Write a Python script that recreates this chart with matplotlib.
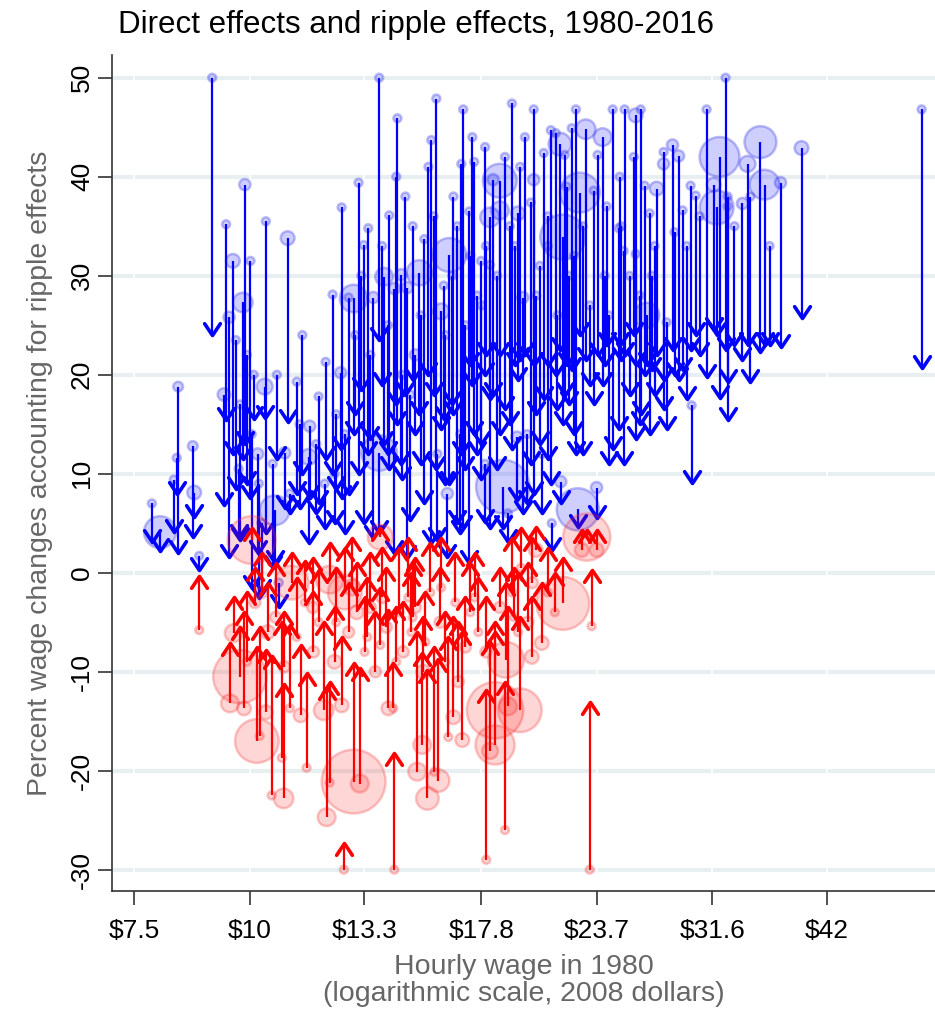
import numpy as np
import matplotlib
matplotlib.use("Agg")
import matplotlib.pyplot as plt
from matplotlib.path import Path
from matplotlib.markers import MarkerStyle

plt.rcParams['font.family'] = ['Liberation Sans Narrow', 'Liberation Sans', 'DejaVu Sans']

###############################################################################
# data: hourly wage in 1980 (2008 dollars), change from direct effect,
# change once ripple effects are included, and cell weight

# occupations where ripple effects pull the change down
blue_wage = [7.84, 8.00, 8.28, 8.34, 8.37, 8.68, 8.71, 8.82, 9.11, 9.38,
             9.43, 9.50, 9.59, 9.66, 9.73, 9.76, 9.83, 9.88, 9.93, 10.02,
             10.05, 10.10, 10.20, 10.23, 10.30, 10.38, 10.41, 10.59, 10.64, 10.75,
             10.91, 10.99, 11.05, 11.24, 11.32, 11.58, 11.61, 11.87, 12.05, 12.08,
             12.29, 12.35, 12.54, 12.57, 12.67, 12.79, 12.95, 13.11, 13.28, 13.43,
             13.60, 13.80, 13.80, 13.97, 14.15, 14.33, 14.44, 14.58, 14.73, 14.80,
             14.91, 15.10, 15.25, 15.44, 15.60, 15.71, 15.91, 15.95, 16.10, 16.27,
             16.35, 16.43, 16.55, 16.76, 16.88, 16.93, 17.01, 17.27, 17.31, 17.48,
             17.61, 17.78, 17.96, 17.96, 18.18, 18.18, 18.32, 18.63, 18.63, 18.77,
             18.87, 19.01, 19.20, 19.34, 19.44, 19.49, 19.73, 19.83, 19.93, 20.12,
             20.27, 20.27, 20.58, 20.68, 20.78, 20.99, 21.15, 21.20, 21.41, 21.63,
             21.68, 21.79, 21.90, 22.12, 22.28, 22.51, 22.62, 22.73, 22.90, 23.07,
             23.30, 23.53, 23.70, 23.76, 24.06, 24.18, 24.42, 24.67, 25.04, 25.10,
             25.35, 25.41, 25.73, 26.12, 26.12, 26.38, 26.45, 26.71, 26.85, 27.04,
             27.38, 27.52, 28.00, 28.00, 28.21, 28.63, 28.77, 29.06, 29.35, 29.65,
             29.94, 30.02, 30.32, 30.62, 31.16, 31.71, 31.95, 32.18, 32.67, 32.83,
             32.83, 33.40, 34.07, 34.50, 34.75, 35.63, 35.99, 36.44, 37.45, 39.46,
             53.20,
             13.00, 13.20, 13.50, 13.90, 14.10, 14.40, 14.60, 15.00, 15.30, 15.80,
             16.20, 16.60, 17.10, 17.40, 17.80, 18.00, 18.50, 19.10, 19.60, 20.40,
             21.00, 21.50, 22.00, 22.40, 24.30, 25.20, 26.00, 27.20, 11.40, 11.80,
             12.40, 10.70]
blue_direct = [7.0, 4.1, 9.4, 11.6, 18.8, 12.8, 8.1, 1.7, 50.0, 18.0,
               35.2, 25.8, 31.5, 23.5, 10.5, 17.0, 27.3, 39.2, 22.0, 31.5,
               14.0, 20.0, 12.0, 9.0, 5.0, 18.8, 35.5, 11.0, 6.3, -1.0,
               12.1, 33.8, 8.0, 19.3, 15.0, 11.7, 14.8, 17.8, 9.0, 21.3,
               28.1, 10.0, 20.2, 36.9, 14.0, 27.8, 27.7, 39.4, 33.1, 34.8,
               27.8, 50.0, 12.1, 29.9, 36.1, 28.7, 45.9, 30.1, 38.0, 28.8,
               18.0, 22.0, 30.3, 33.7, 41.0, 43.7, 47.9, 12.0, 26.4, 24.0,
               8.0, 32.1, 30.0, 35.0, 14.0, 41.3, 46.8, 36.5, 32.0, 41.5,
               28.0, 31.5, 43.0, 11.0, 35.9, 31.1, 39.7, 39.6, 36.6, 8.7,
               42.0, 6.0, 47.4, 33.0, 13.7, 36.3, 27.8, 44.0, 14.0, 37.4,
               46.8, 39.7, 31.0, 12.0, 42.4, 36.0, 44.7, 5.0, 44.4, 43.3,
               9.2, 33.9, 42.2, 30.0, 44.9, 46.8, 6.4, 38.4, 35.0, 44.8,
               27.0, 38.6, 8.6, 42.2, 44.0, 30.0, 26.0, 46.8, 34.8, 40.0,
               32.5, 46.8, 30.0, 46.2, 32.2, 28.0, 46.8, 39.1, 26.0, 36.3,
               33.0, 38.8, 42.5, 41.3, 25.3, 43.2, 34.4, 42.1, 36.6, 33.0,
               39.1, 16.9, 38.1, 36.0, 46.8, 39.2, 36.9, 42.0, 50.0, 38.0,
               37.0, 35.0, 37.3, 41.3, 38.0, 43.5, 39.2, 33.0, 39.4, 42.9,
               46.8,
               24.0, 30.0, 22.0, 33.0, 25.0, 40.0, 20.0, 35.0, 26.0, 36.0,
               29.0, 38.0, 25.0, 44.0, 27.0, 33.0, 30.0, 35.0, 41.0, 28.0,
               33.0, 26.0, 39.0, 32.0, 37.0, 35.0, 42.0, 30.0, 24.0, 13.0,
               16.0, 20.0]
blue_ripple = [3.1, 2.2, 4.1, 8.0, 2.0, 3.6, 5.6, 0.3, 24.0, 6.8,
               15.4, 1.6, 12.0, 8.5, 3.6, 3.3, 11.5, 13.0, 9.0, 7.5,
               -1.5, 15.5, 2.0, -2.6, -2.0, 15.6, 4.0, 0.5, 1.0, -3.5,
               6.5, 15.2, 6.0, 8.0, 6.5, 3.0, 7.5, 7.0, 4.5, 11.5,
               10.0, 5.0, 12.5, 7.5, 4.0, 8.0, 14.0, 10.0, 5.0, 12.0,
               3.5, 23.5, 4.0, 13.0, 10.5, 2.0, 15.0, 11.0, 18.0, 1.5,
               5.3, 14.0, 16.0, 7.0, 20.0, 3.0, 10.5, 3.3, 14.5, 9.0,
               1.6, 9.0, 17.0, 5.0, 4.0, 12.0, 4.5, 1.0, 21.0, 14.0,
               12.0, 9.5, 20.0, 5.1, 17.5, 4.5, 18.0, 22.0, 14.0, 4.5,
               16.5, 3.1, 12.5, 21.0, 7.3, 19.5, 6.0, 22.0, 7.0, 11.0,
               21.0, 8.0, 13.0, 6.0, 17.5, 21.0, 9.0, 2.3, 20.0, 22.5,
               7.0, 15.0, 18.0, 17.0, 20.5, 12.0, 4.6, 24.0, 12.0, 21.5,
               19.0, 17.0, 5.5, 22.0, 19.0, 21.0, 11.0, 12.5, 14.5, 23.0,
               11.0, 22.0, 18.0, 21.0, 13.5, 15.0, 16.0, 20.0, 21.0, 14.0,
               18.0, 22.0, 19.5, 16.5, 14.5, 22.5, 20.0, 19.5, 20.5, 17.5,
               22.5, 9.1, 24.0, 22.0, 19.8, 24.5, 24.0, 17.6, 22.5, 15.4,
               19.3, 23.0, 21.5, 23.0, 19.3, 22.3, 23.0, 23.0, 22.8, 25.7,
               20.7,
               16.0, 18.5, 13.5, 19.0, 12.0, 17.0, 9.5, 19.5, 11.0, 18.0,
               15.5, 16.0, 10.5, 19.0, 13.0, 22.0, 10.5, 15.0, 21.5, 16.0,
               11.5, 16.5, 21.0, 14.0, 23.0, 21.5, 24.0, 20.5, 10.0, 6.0,
               8.5, 11.5]
blue_weight = [1, 16, 1, 1, 1.5, 1.5, 3, 1, 1, 2.5,
               1, 2, 3, 1, 1, 1, 6, 2, 1, 1,
               1, 1, 2, 1, 1, 4, 1, 1, 14, 1,
               2, 3, 1, 1, 1, 4, 2, 1, 1, 1,
               1, 1, 2, 1, 1, 1, 12, 1, 1, 1,
               2, 1, 20, 5, 1, 2, 1, 2, 1, 2,
               1, 2, 10, 1, 1, 1, 1, 1, 4, 1,
               2, 18, 1, 1, 1, 1, 1, 1, 1, 1,
               1, 1, 1, 1, 6, 1, 2, 18, 5, 45,
               1, 1, 1, 1, 2, 3, 2, 1, 1, 1,
               1, 2, 1, 1, 1, 1, 1, 1, 1, 8,
               2, 32, 1, 1, 1, 1, 28, 25, 1, 6,
               1, 1, 2, 1, 5, 1, 1, 1, 1, 1,
               1, 1, 1, 3, 1, 1, 1, 1, 10, 1,
               1, 3, 1, 2, 1, 2, 1, 2, 1, 1,
               1, 1, 1, 1, 1, 3, 18, 25, 1, 1,
               1, 1, 2, 4, 1, 16, 14, 1, 2, 3,
               1,
               1, 1, 1, 1, 1, 1, 1, 1, 1, 1,
               1, 1, 1, 1, 1, 1, 1, 1, 1, 1,
               1, 1, 1, 1, 1, 1, 1, 1, 1, 1,
               1, 1]

# occupations where ripple effects push the change up
red_wage = [8.82, 9.52, 9.61, 9.76, 9.86, 9.93, 10.05, 10.13, 10.18, 10.25,
            10.41, 10.46, 10.56, 10.67, 10.83, 10.88, 11.05, 11.10, 11.24, 11.35,
            11.47, 11.52, 11.72, 11.87, 12.02, 12.11, 12.20, 12.20, 12.35, 12.57,
            12.64, 12.67, 12.79, 12.95, 13.15, 13.05, 13.31, 13.50, 13.67, 13.84,
            13.84, 14.05, 14.12, 14.33, 14.29, 14.51, 14.65, 14.84, 14.95, 15.17,
            15.10, 15.36, 15.48, 15.56, 15.67, 15.83, 15.98, 16.06, 16.27, 16.39,
            16.60, 16.68, 16.97, 17.10, 17.31, 17.66, 18.01, 18.18, 18.41, 18.41,
            18.63, 18.87, 18.92, 19.01, 19.20, 19.49, 19.58, 19.63, 19.97, 20.17,
            20.37, 20.68, 20.99, 21.79, 22.84, 23.13, 23.30, 23.41, 23.70, 21.36,
            11.70, 12.40, 12.90, 13.40, 13.90, 14.40, 15.00, 15.40, 16.10, 16.80,
            17.50, 18.00, 19.30, 20.20, 10.90, 10.30]
red_direct = [-5.8, -13.2, -6.1, -10.5, -13.7, -9.0, 3.3, -3.0, -17.0, -16.5,
              -14.1, -6.0, -22.5, -4.5, -18.7, -22.8, -13.7, -1.0, -6.5, -14.4,
              -3.0, -19.7, -8.0, -5.0, -13.9, -24.7, -21.2, -0.7, -9.0, -13.4,
              -30.0, -2.0, -6.0, -21.1, -21.3, -4.0, -8.0, -3.5, -10.0, 3.6,
              -7.3, -5.5, -13.7, -30.0, -13.7, -4.0, -8.0, -2.5, -6.0, -20.1,
              -3.5, -17.4, -7.0, -22.8, -2.0, -20.1, -21.0, -5.0, -9.0, -16.6,
              -14.6, -3.0, -16.9, -7.5, -4.0, -6.0, -29.0, -18.0, -13.9, -17.4,
              -3.5, -26.0, -8.8, -13.5, -2.0, -6.0, -13.9, 0.5, -5.0, -8.5,
              2.3, -7.1, -2.0, -3.1, 2.3, 3.6, -30.0, -5.4, 2.3, -4.0,
              -3.5, -5.0, -1.5, -6.5, -2.5, -9.0, -4.5, -10.0, -1.5, -11.0,
              -2.5, -8.0, -4.5, -1.0, -9.5, -2.0]
red_ripple = [-0.3, -7.1, -2.5, -5.5, -4.0, -2.0, 4.5, 0.5, -7.5, -5.5,
              -7.8, -1.0, -8.4, 1.0, -5.0, -11.2, -5.3, 2.0, -0.5, -7.3,
              1.2, -10.1, -2.0, 0.3, -5.0, -11.5, -11.0, 3.0, -3.5, -6.5,
              -27.3, 2.5, -1.0, -9.1, -9.6, 1.0, -2.5, 2.0, -4.0, 4.5,
              -1.5, 0.5, -3.8, -18.2, -9.1, 2.5, -3.0, 3.5, 0.0, -6.0,
              1.5, -8.1, -2.0, -9.8, 3.0, -7.5, -8.7, 0.5, -4.0, -6.5,
              -4.5, 2.0, -6.0, -2.5, 1.0, -0.5, -11.9, -7.0, -5.0, -6.0,
              0.5, -11.0, -1.0, -3.5, 3.5, 0.0, -4.5, 4.5, 1.0, -2.5,
              4.6, -1.0, 2.5, 1.5, 4.3, 4.3, -13.1, 0.3, 4.3, 0.0,
              1.5, 0.5, 3.5, -0.5, 2.5, -3.5, 1.0, -4.5, 3.5, -5.0,
              2.0, -2.5, 0.5, 3.5, -4.0, 2.0]
red_weight = [1, 5, 5, 45, 3, 1, 36, 2, 30, 1,
              3, 3, 1, 2, 1, 6, 1, 18, 1, 3,
              1, 1, 2, 1, 6, 5, 1, 12, 3, 3,
              1, 18, 2, 64, 5, 3, 1, 2, 2, 10,
              1, 2, 3, 1, 1, 1, 2, 1, 1, 5,
              2, 5, 1, 8, 1, 1, 8, 2, 1, 1,
              3, 1, 3, 2, 1, 1, 1, 4, 50, 24,
              2, 1, 20, 5, 1, 1, 30, 1, 2, 3,
              3, 3, 1, 44, 3, 35, 1, 1, 3, 1,
              2, 1, 4, 1, 2, 1, 1, 3, 1, 2,
              1, 2, 1, 2, 2, 2]

ytick_vals = [-30, -20, -10, 0, 10, 20, 30, 40, 50]
xtick_vals = [7.5, 10, 13.3, 17.8, 23.7, 31.6, 42]
xtick_labels = ['$7.5', '$10', '$13.3', '$17.8', '$23.7', '$31.6', '$42']

###############################################################################
# arrowheads as open chevrons, tip sitting on the data point

def chevron(direction):
    verts = [(-1.0, -1.5 * direction), (0.0, 0.0), (1.0, -1.5 * direction)]
    codes = [Path.MOVETO, Path.LINETO, Path.LINETO]
    return MarkerStyle(Path(verts, codes), joinstyle='round', capstyle='round')

head_down = chevron(-1)
head_up = chevron(1)

###############################################################################
# plot

fig = plt.figure(figsize=(9.35, 10.18), dpi=100)
ax = fig.add_axes([0.1198, 0.1248, 0.8802, 0.8212])

ax.set_xscale('log')
ax.set_xlim(7.10, 55.0)
ax.set_ylim(-32.15, 52.3)

# grid: light bands broken where the x ticks are
for yv in ytick_vals:
    ax.axhline(yv, color='#e8eff1', lw=3.0, zorder=0.5)
for xv in xtick_vals:
    ax.axvline(xv, color='white', lw=1.2, zorder=0.6)

size_scale = 33.0

# blue: bubbles then arrows
ax.scatter(blue_wage, blue_direct, s=np.array(blue_weight) * size_scale,
           facecolor=(0, 0, 1, 0.19), edgecolor=(0.2, 0.2, 0.9, 0.32),
           linewidth=1.8, zorder=2)
ax.vlines(blue_wage, blue_ripple, blue_direct, color='#0000ff', lw=1.6, zorder=3)
ax.plot(blue_wage, blue_ripple, linestyle='none', marker=head_down,
        markersize=17, markerfacecolor='none', markeredgecolor='#0000ff',
        markeredgewidth=2.6, zorder=3)

# red: bubbles then arrows
ax.scatter(red_wage, red_direct, s=np.array(red_weight) * size_scale,
           facecolor=(1, 0, 0, 0.16), edgecolor=(0.95, 0.2, 0.2, 0.28),
           linewidth=1.8, zorder=4)
ax.vlines(red_wage, red_direct, red_ripple, color='#ff0000', lw=1.6, zorder=5)
ax.plot(red_wage, red_ripple, linestyle='none', marker=head_up,
        markersize=17, markerfacecolor='none', markeredgecolor='#ff0000',
        markeredgewidth=2.6, zorder=5)

# axes
ax.set_yticks(ytick_vals)
ax.set_yticklabels([str(v) for v in ytick_vals])
ax.set_xticks(xtick_vals)
ax.set_xticklabels(xtick_labels)
ax.xaxis.set_minor_locator(matplotlib.ticker.NullLocator())
ax.tick_params(axis='both', direction='out', length=10, width=1.2,
               color='#333333', labelsize=19, labelcolor='black')
ax.tick_params(axis='y', labelrotation=90, pad=3)
ax.tick_params(axis='x', pad=10)
for lab in ax.get_yticklabels():
    lab.set_va('center')

for side in ['top', 'right']:
    ax.spines[side].set_visible(False)
for side in ['left', 'bottom']:
    ax.spines[side].set_color('#333333')
    ax.spines[side].set_linewidth(1.2)

ax.set_ylabel('Percent wage changes accounting for ripple effects',
              fontsize=20.5, color='#666666', labelpad=12)
ax.set_xlabel('Hourly wage in 1980\n(logarithmic scale, 2008 dollars)',
              fontsize=20.5, color='#666666', labelpad=8, linespacing=1.05)

fig.text(0.126, 0.990, 'Direct effects and ripple effects, 1980-2016',
         fontsize=22.5, ha='left', va='top', color='black')

fig.savefig('out.png', dpi=100)
